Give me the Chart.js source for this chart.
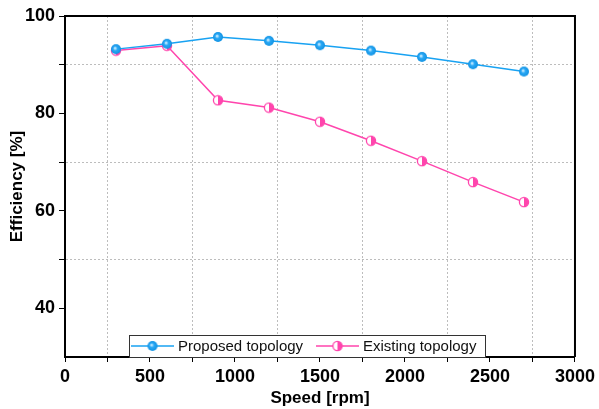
<!DOCTYPE html>
<html>
<head>
<meta charset="utf-8">
<script src="https://cdn.jsdelivr.net/npm/chart.js@4"></script>
<style>
  html, body { margin: 0; padding: 0; background: #fff; }
  #wrap { width: 599px; height: 409px; }
</style>
</head>
<body>
<div id="wrap"><canvas id="chart" width="599" height="409"></canvas></div>
<script>
var speeds = [300, 600, 900, 1200, 1500, 1800, 2100, 2400, 2700];
var proposed = [93.2, 94.3, 95.7, 94.9, 94.0, 92.9, 91.6, 90.1, 88.6];
var existing = [92.9, 93.9, 82.7, 81.2, 78.3, 74.4, 70.2, 65.9, 61.8];

var blue = '#18a2f2';
var pink = '#ff45ad';

// ball marker for the proposed series
function ballMarker() {
  var c = document.createElement('canvas');
  c.width = 12; c.height = 12;
  var g = c.getContext('2d');
  var grad = g.createRadialGradient(5, 5, 0.5, 6, 6, 5.5);
  grad.addColorStop(0, '#bfe8ff');
  grad.addColorStop(0.35, '#2aa8f5');
  grad.addColorStop(1, '#0d8fe0');
  g.fillStyle = grad;
  g.beginPath(); g.arc(6, 6, 5, 0, Math.PI * 2); g.fill();
  return c;
}

// half filled circle for the existing series
function halfMarker() {
  var c = document.createElement('canvas');
  c.width = 12; c.height = 12;
  var g = c.getContext('2d');
  g.fillStyle = '#fff';
  g.beginPath(); g.arc(6, 6, 4.6, 0, Math.PI * 2); g.fill();
  g.fillStyle = pink;
  g.beginPath(); g.arc(6, 6, 4.6, -Math.PI / 2, Math.PI / 2); g.fill();
  g.strokeStyle = pink; g.lineWidth = 1.3;
  g.beginPath(); g.arc(6, 6, 4.6, 0, Math.PI * 2); g.stroke();
  return c;
}

var ballImg = ballMarker();
var halfImg = halfMarker();

var frame = {
  id: 'frame',
  afterDraw: function (chart) {
    var a = chart.chartArea, ctx = chart.ctx;
    ctx.save();
    ctx.strokeStyle = '#000';
    ctx.lineWidth = 2;
    ctx.beginPath();
    ctx.moveTo(a.left, a.top); ctx.lineTo(a.right, a.top);
    ctx.lineTo(a.right, a.bottom);
    ctx.stroke();

    // legend box
    var x0 = 129, y0 = 335, x1 = 486, y1 = a.bottom;
    ctx.fillStyle = '#fff';
    ctx.fillRect(x0, y0, x1 - x0, y1 - y0);
    ctx.strokeStyle = '#333';
    ctx.lineWidth = 1;
    ctx.strokeRect(x0 + 0.5, y0 + 0.5, x1 - x0 - 1, y1 - y0);
    var ym = 346;
    var items = [
      { x: 131, col: blue, img: ballImg, label: 'Proposed topology' },
      { x: 316, col: pink, img: halfImg, label: 'Existing topology' }
    ];
    ctx.font = '15px "Liberation Sans", Arial, sans-serif';
    ctx.textBaseline = 'middle';
    items.forEach(function (it) {
      ctx.strokeStyle = it.col;
      ctx.lineWidth = 1.5;
      ctx.beginPath(); ctx.moveTo(it.x, ym); ctx.lineTo(it.x + 43, ym); ctx.stroke();
      ctx.drawImage(it.img, it.x + 21.5 - 6, ym - 6);
      ctx.fillStyle = '#111';
      ctx.fillText(it.label, it.x + 47, ym + 1);
    });
    ctx.restore();
  }
};

var tickFont = { family: '"Liberation Sans", Arial, sans-serif', size: 18, weight: 'bold' };
var titleFont = { family: '"Liberation Sans", Arial, sans-serif', size: 17, weight: 'bold' };

new Chart(document.getElementById('chart'), {
  type: 'line',
  data: {
    datasets: [
      {
        label: 'Proposed topology',
        data: speeds.map(function (s, i) { return { x: s, y: proposed[i] }; }),
        borderColor: blue,
        borderWidth: 1.5,
        pointStyle: ballImg,
        tension: 0
      },
      {
        label: 'Existing topology',
        data: speeds.map(function (s, i) { return { x: s, y: existing[i] }; }),
        borderColor: pink,
        borderWidth: 1.5,
        pointStyle: halfImg,
        tension: 0
      }
    ]
  },
  options: {
    responsive: false,
    animation: false,
    layout: { padding: { top: 16, right: 22, left: 0, bottom: 0 } },
    plugins: { legend: { display: false }, tooltip: { enabled: false } },
    scales: {
      x: {
        type: 'linear',
        min: 0, max: 3000,
        afterFit: function (s) { s.height = 52; },
        border: { color: '#000', width: 2, dash: [2, 2] },
        grid: {
          color: function (c) { return c.tick && c.tick.value % 500 === 0 ? 'rgba(0,0,0,0)' : '#bdbdbd'; },
          tickColor: '#000',
          tickLength: 5,
          lineWidth: 1,
          tickBorderDash: []
        },
        ticks: {
          stepSize: 250,
          autoSkip: false,
          maxRotation: 0,
          color: '#000',
          font: tickFont,
          padding: 4,
          callback: function (v) { return v % 500 === 0 ? v : ''; }
        },
        title: { display: true, text: 'Speed [rpm]', color: '#000', font: titleFont, padding: { top: 2, bottom: 0 } }
      },
      y: {
        min: 30, max: 100,
        afterFit: function (s) { s.width = 65; },
        border: { color: '#000', width: 2, dash: [2, 2] },
        grid: {
          color: function (c) { return c.tick && c.tick.value % 20 === 0 ? 'rgba(0,0,0,0)' : '#bdbdbd'; },
          tickColor: function (c) { return c.tick && c.tick.value === 30 ? 'rgba(0,0,0,0)' : '#000'; },
          tickLength: 6,
          lineWidth: 1,
          tickBorderDash: []
        },
        ticks: {
          stepSize: 10,
          autoSkip: false,
          color: '#000',
          font: tickFont,
          padding: 4,
          callback: function (v) { return (v % 20 === 0) ? v : ''; }
        },
        title: { display: true, text: 'Efficiency [%]', color: '#000', font: titleFont, padding: { top: 7, bottom: 0 } }
      }
    }
  },
  plugins: [frame]
});
</script>
</body>
</html>
